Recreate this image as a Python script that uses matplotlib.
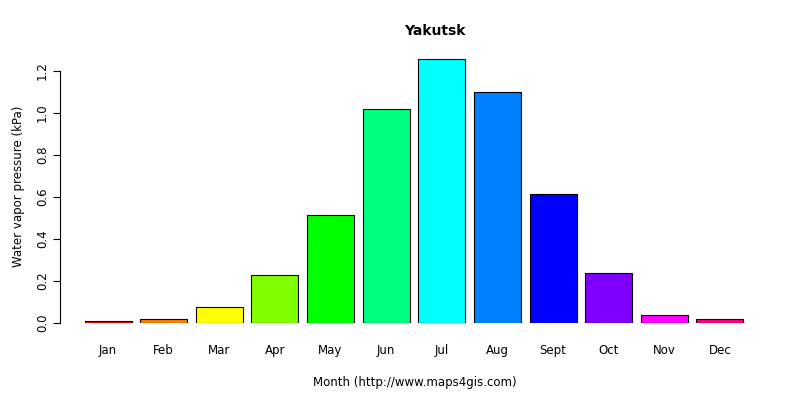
import matplotlib
matplotlib.use("Agg")
import matplotlib.pyplot as plt

months = ["Jan","Feb","Mar","Apr","May","Jun","Jul","Aug","Sept","Oct","Nov","Dec"]
values = [0.01,0.02,0.076,0.23,0.514,1.02,1.257,1.10,0.614,0.238,0.038,0.02]
colors = ["#FF0000","#FF8000","#FFFF00","#80FF00","#00FF00","#00FF80",
          "#00FFFF","#0080FF","#0000FF","#8000FF","#FF00FF","#FF0080"]

fig = plt.figure(figsize=(8,4), dpi=100)
ax = fig.add_axes([60/800, (400-323)/400, 710/800, 273/400])
x = list(range(len(months)))
ax.bar(x, values, width=0.845, color=colors, edgecolor="black", linewidth=0.8)
ax.set_xlim(-0.863, 11.9)
ax.set_ylim(0, 1.3)
for s in ["top","right","bottom"]:
    ax.spines[s].set_visible(False)
ax.spines["left"].set_bounds(0, 1.2)
ax.set_yticks([0,0.2,0.4,0.6,0.8,1.0,1.2])
ax.set_yticklabels(["0.0","0.2","0.4","0.6","0.8","1.0","1.2"], rotation=90, va="center", fontsize=8.5)
ax.set_xticks(x)
ax.set_xticklabels(months, fontsize=8.5)
ax.tick_params(axis="x", length=0, pad=15)
ax.tick_params(axis="y", length=5, pad=3)
ax.set_xlabel("Month (http://www.maps4gis.com)", fontsize=8.5, labelpad=14)
ax.set_ylabel("Water vapor pressure (kPa)", fontsize=8.5, labelpad=8)
fig.text(435/800, 1-31/400, "Yakutsk", ha="center", va="center", fontsize=10, fontweight="bold")
fig.savefig("out.png", dpi=100)
